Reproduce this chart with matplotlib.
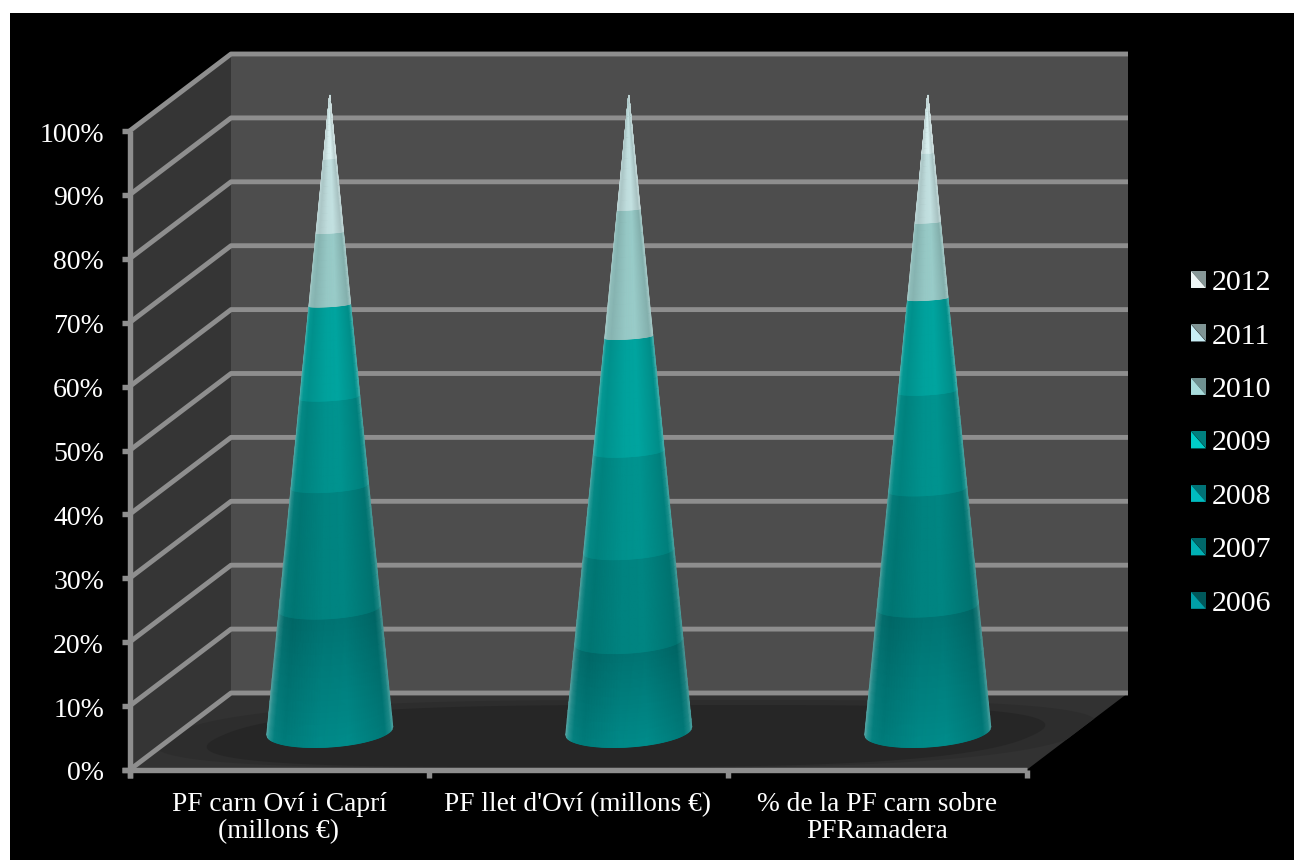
import numpy as np
import matplotlib
matplotlib.use('Agg')
import matplotlib.pyplot as plt
from matplotlib.legend_handler import HandlerBase
from matplotlib.patches import Patch, Polygon

categories = ["PF carn Oví i Caprí\n(millons €)", "PF llet d'Oví (millons €)",
              "% de la PF carn sobre\nPFRamadera"]
years = ['2006', '2007', '2008', '2009', '2010', '2011', '2012']

v2006 = [19.3, 14.1, 19.6]
v2007 = [19.2, 14.2, 18.4]
v2008 = [14.0, 15.6, 15.4]
v2009 = [14.5, 18.1, 14.6]
v2010 = [11.4, 20.0, 12.0]
v2011 = [11.6, 18.0, 10.9]
v2012 = [10.0, 0.0, 9.1]
series = [v2006, v2007, v2008, v2009, v2010, v2011, v2012]

colors = ['#00706f', '#00807d', '#008e8a', '#009e99', '#93c4c1', '#bcd9d9', '#d2e8e8']
swatch_light = ['#00a0a8', '#00b0b4', '#00bcc0', '#00cdc8', '#a8dcdc', '#c8eef5', '#eef6f6']
swatch_dark = ['#00585a', '#00676a', '#007276', '#007f7e', '#6f9090', '#7f9494', '#869696']
ticks = [0, 10, 20, 30, 40, 50, 60, 70, 80, 90, 100]

# pixel layout of the fake 3D box
X0, Y0 = 129.5, 770
PX_PCT = 6.39
CAT_W = 299
DX, DY = 101.5, -77
LINE = '#8e8e8e'
LW = 3.5
CONE_PX = 6.36
CONE_R = 63
CONE_B = 16
CONE_TILT = 4

FONT = 'Liberation Serif'


def proj(cat, pct, depth=0.0):
    return X0 + cat * CAT_W + depth * DX, Y0 - pct * PX_PCT + depth * DY


def shade(base, u, lift):
    # left to right look of the cone: pale rim, dark flank, bright middle
    pts = [-1, -0.96, -0.88, -0.72, -0.15, 0.3, 0.72, 0.88, 0.97, 1]
    fac = [1.0, 1.0, 0.95, 0.92, 1.02, 1.04, 0.94, 0.90, 0.95, 1.0]
    rim = [0.42, 0.18, 0.02, 0, 0, 0, 0, 0, 0.14, 0.38]
    f = np.interp(u, pts, fac)[..., None] * lift[..., None]
    m = np.interp(u, pts, rim)[..., None]
    c = np.clip(np.array(matplotlib.colors.to_rgb(base)) * f, 0, 1)
    return c * (1 - m) + m * np.array([0.8, 0.82, 0.82])


def draw_cone(ax, cat_i, values):
    cx, cy = proj(cat_i + 0.5, 0, 0.5)
    cy -= 0.5
    bottom = 0.0
    u = np.linspace(-1, 1, 121)
    for i, val in enumerate(values):
        if val <= 0:
            continue
        lev = np.linspace(bottom, bottom + val, 12)
        U, L = np.meshgrid(u, lev)
        r = 1 - L / 100
        X = cx + CONE_R * r * U
        Y = cy - L * CONE_PX + CONE_B * r ** 2 * np.sqrt(1 - U ** 2) - CONE_TILT * r * U
        v = (L - bottom) / val
        lift = 1 + 0.2 * (1 - v) if i == 0 else np.ones_like(v)
        ax.pcolormesh(X, Y, shade(colors[i], U, lift), shading='gouraud', zorder=5)
        bottom += val


def floor_blob(cx, cy, a, h, color):
    t = np.linspace(0, 2 * np.pi, 200)
    xs = np.sign(np.cos(t)) * np.abs(np.cos(t)) ** (2 / 3.5)
    ys = np.sign(np.sin(t)) * np.abs(np.sin(t)) ** (2 / 2.4)
    px = cx + a * xs - ys * h * 2.2
    py = cy + h * ys
    return Polygon(np.column_stack([px, py]), closed=True, fc=color, ec='none', zorder=2)


class SplitSwatch(HandlerBase):
    def create_artists(self, legend, orig, xd, yd, w, h, fs, trans):
        light, dark = orig.get_facecolor(), orig.get_edgecolor()
        x0, y0 = xd * -1, yd * -1
        a = Polygon([(x0, y0), (x0 + w, y0), (x0, y0 + h)], fc=light, ec='none', transform=trans)
        b = Polygon([(x0, y0 + h), (x0 + w, y0 + h), (x0 + w, y0)], fc=dark, ec='none', transform=trans)
        return [b, a]


fig = plt.figure(figsize=(12.94, 8.6), dpi=100, facecolor='white')
ax = fig.add_axes([0, 0, 1, 1])
ax.set_xlim(0, 1294)
ax.set_ylim(860, 0)
ax.axis('off')

ax.add_patch(plt.Rectangle((10, 13), 1284, 847, fc='black', ec='none', zorder=0))

n = len(categories)
ax.add_patch(Polygon([proj(0, 0), proj(0, 0, 1), proj(0, 100, 1), proj(0, 100)], fc='#353535', ec='none', zorder=1))
ax.add_patch(Polygon([proj(0, 0, 1), proj(n, 0, 1), proj(n, 100, 1), proj(0, 100, 1)], fc='#4d4d4d', ec='none', zorder=1))
floor = Polygon([proj(0, 0), proj(n, 0), proj(n, 0, 1), proj(0, 0, 1)], fc='#323232', ec='none', zorder=1)
ax.add_patch(floor)
for blob in [floor_blob(626, 734, 455, 34, '#2d2d2d'), floor_blob(626, 736, 405, 31, '#262626')]:
    ax.add_patch(blob)
    blob.set_clip_path(floor)

for p in ticks:
    pts = np.array([proj(0, p), proj(0, p, 1), proj(n, p, 1)])
    ax.plot(pts[:, 0], pts[:, 1], color=LINE, lw=LW, solid_capstyle='butt', solid_joinstyle='round', zorder=3)
    x, y = proj(0, p)
    ax.plot([x - 8, x], [y, y], color=LINE, lw=LW + 0.4, solid_capstyle='butt', zorder=3)
    ax.text(104, y + 4, '%d%%' % p, color='white', ha='right', va='center', family=FONT, fontsize=20)

x, y = proj(0, 100)
ax.plot([x, x], [y, Y0 + 8], color=LINE, lw=LW + 0.4, solid_capstyle='butt', zorder=3)
ax.plot([X0 - 8, proj(n, 0)[0]], [Y0, Y0], color=LINE, lw=LW + 0.4, solid_capstyle='butt', zorder=3)
for i in range(n + 1):
    x, y = proj(i, 0)
    ax.plot([x, x], [y, y + 8], color=LINE, lw=LW + 0.4, solid_capstyle='butt', zorder=3)

for i, label in enumerate(categories):
    x, y = proj(i + 0.5, 0)
    ax.text(x, 792, label, color='white', ha='center', va='top', family=FONT, fontsize=19.7, linespacing=1.12)

for i in range(n):
    draw_cone(ax, i, [s[i] for s in series])

handles = [Patch(facecolor=swatch_light[i], edgecolor=swatch_dark[i], label=years[i]) for i in range(len(years))]
leg = ax.legend(handles[::-1], years[::-1], loc='center left', bbox_to_anchor=(1191, 443.5),
                bbox_transform=ax.transData, frameon=False, handler_map={Patch: SplitSwatch()},
                prop={'family': FONT, 'size': 21.5}, labelcolor='white', handlelength=0.5,
                handleheight=0.5, handletextpad=0.2, labelspacing=0.92, borderpad=0, borderaxespad=0)

fig.savefig('out.png', dpi=100, facecolor='white')
